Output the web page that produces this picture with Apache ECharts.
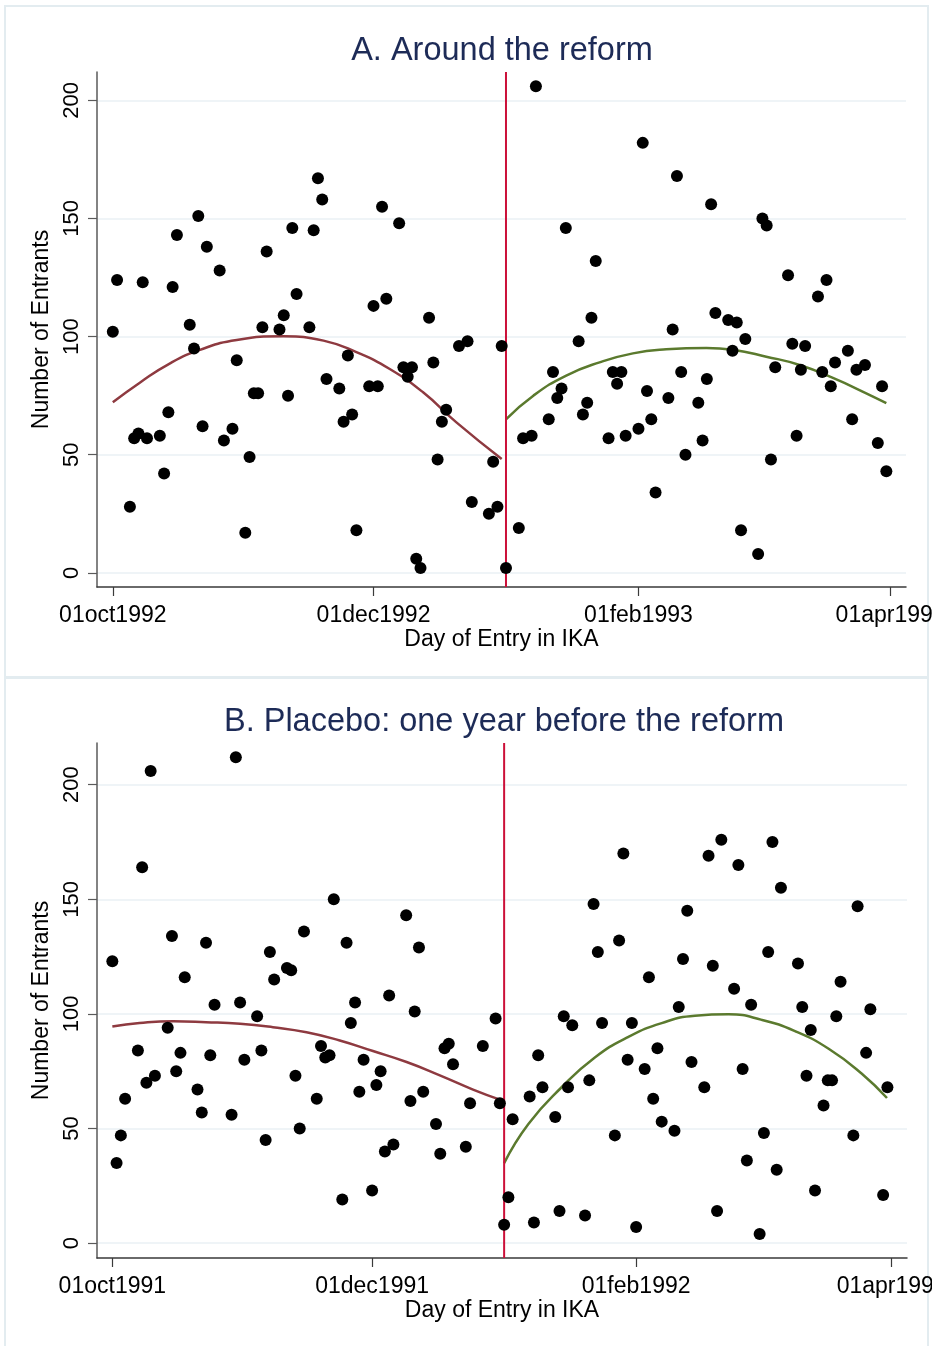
<!DOCTYPE html>
<html>
<head>
<meta charset="utf-8">
<script src="https://cdn.jsdelivr.net/npm/echarts@6/dist/echarts.min.js"></script>
<style>
html,body{margin:0;padding:0;background:#fff;}
#chart{width:932px;height:1346px;}
</style>
</head>
<body>
<div id="chart"></div>
<script>
// ---- Panel A: Around the reform (days since 01oct1992) ----
const dayA_pre = [0,1,4,5,6,7,8,11,12,13,14,15,18,19,20,21,22,25,26,28,29,31,32,33,34,35,36,39,40,41,42,43,46,47,48,49,50,53,54,55,56,57,60,61,62,63,64,67,68,69,70,71,72,74,75,76,77,78,81,83,84,88,89,90,91];
const valA_pre = [102,124,28,57,59,123,57,58,42,68,121,143,105,95,151,62,138,128,56,61,90,17,49,76,76,104,136,103,109,75,146,118,104,145,167,158,82,78,64,92,67,18,79,113,79,155,116,148,87,83,87,6,2,108,89,48,64,69,96,98,30,25,47,28,96];
const dayA_post = [92,95,96,98,99,102,103,104,105,106,109,110,111,112,113,116,117,118,119,120,123,124,125,126,127,130,131,132,133,134,137,138,139,140,141,144,145,146,147,148,151,152,153,154,155,158,159,160,161,162,165,166,167,168,169,172,173,174,176,179,180,181];
const valA_post = [2,19,57,58,206,65,85,74,78,146,98,67,72,108,132,57,85,80,85,58,61,182,77,65,34,74,103,168,85,50,72,56,82,156,110,107,94,106,18,99,8,150,147,48,87,126,97,58,86,96,117,85,124,79,89,94,65,86,88,55,79,43];
const fitDayA_pre = [0,6.4,13.4,20.4,29,39.9,49.3,57,64.8,72.6,80.4,91];
const fitValA_pre = [72.2,80.6,88.7,94.4,98.6,100.1,98.3,93.4,86.3,76.4,63.7,48.2];
const fitDayA_post = [92,98.4,106.1,113.9,121.7,129.5,138.9,145.1,152.9,160.7,168.5,176.3,181];
const fitValA_post = [65,75,83.5,89.1,92.9,94.6,95.2,94.4,91.5,88,82.5,76,71.8];
const reformDayA = 92;
const tickDaysA = [0,61,123,182];
const tickLabelsA = ['01oct1992','01dec1992','01feb1993','01apr1993'];

// ---- Panel B: Placebo (days since 01oct1991) ----
const dayB_pre = [0,1,2,3,6,7,8,9,10,13,14,15,16,17,20,21,22,23,24,28,29,30,31,34,35,36,37,38,41,42,43,44,45,48,49,50,51,52,54,55,56,57,58,59,61,62,63,64,65,66,69,70,71,72,73,76,77,78,79,80,83,84,87,90,91];
const valB_pre = [123,35,47,63,84,164,70,206,73,94,134,75,83,116,67,57,131,82,104,56,212,105,80,99,84,45,127,115,120,119,73,50,136,63,86,81,82,150,19,131,96,105,66,80,23,69,75,40,108,43,143,62,101,129,66,52,39,85,87,78,42,61,86,98,61];
const dayB_post = [92,93,94,98,99,100,101,104,105,106,107,108,111,112,113,114,115,118,119,120,121,122,123,125,126,127,128,129,132,133,134,135,136,139,140,141,142,143,146,147,148,149,150,152,153,154,155,156,157,161,162,163,164,165,167,168,169,170,171,174,175,177,178,181,182];
const valB_post = [8,20,54,64,9,82,68,55,14,99,68,95,12,71,148,127,96,47,132,170,80,96,7,76,116,63,85,53,49,103,124,145,79,68,169,121,14,176,111,165,76,36,104,4,48,127,175,32,155,122,103,73,93,23,60,71,71,99,114,47,147,83,102,21,68];
const fitDayB_pre = [0,6.4,14.3,22,30,37.7,45.6,53.4,61.2,69.1,76.9,84.7,91];
const fitValB_pre = [94.5,96,96.8,96.4,95.7,94.2,92,88.4,83.8,79,73.2,67,62.6];
const fitDayB_post = [92,97.7,105.5,113.3,121.2,129,136.8,144.7,152.5,160.3,168.2,176,181.9];
const fitValB_post = [34.9,52,68,81,90,96,99.2,99.8,97.4,92.5,84.8,73.9,63.3];
const reformDayB = 92;
const tickDaysB = [0,61,123,183];
const tickLabelsB = ['01oct1991','01dec1991','01feb1992','01apr1992'];

const yTicks = [0,50,100,150,200];
const titles = ['A. Around the reform','B. Placebo: one year before the reform'];
const xName = 'Day of Entry in IKA';
const yName = 'Number of Entrants';

const FONT = 'Liberation Sans';
const zip = (a,b) => a.map((v,i)=>[v,b[i]]);

function xAxisFor(idx, min, max, ticks, labels){
  return {
    type:'value', gridIndex: idx, min:min, max:max,
    name: xName, nameLocation:'middle', nameGap:40,
    nameTextStyle:{fontFamily:FONT,fontSize:23,color:'#000'},
    axisLine:{onZero:false,lineStyle:{color:'#3a3a3a',width:1.5}},
    axisTick:{show:true,length:9,customValues:ticks,lineStyle:{color:'#3a3a3a',width:1.2}},
    axisLabel:{customValues:ticks,margin:17,fontFamily:FONT,fontSize:23,color:'#000',hideOverlap:false,
      formatter:(v)=>{const i=ticks.indexOf(Math.round(v));return i>=0?labels[i]:'';}},
    splitLine:{show:false}
  };
}
function yAxisFor(idx, min, max){
  return {
    type:'value', gridIndex: idx, min:min, max:max,
    name: yName, nameLocation:'middle', nameGap:35, nameRotate:90,
    nameTextStyle:{fontFamily:FONT,fontSize:23,color:'#000'},
    axisLine:{show:true,onZero:false,lineStyle:{color:'#5a5a5a',width:1.5}},
    axisTick:{show:true,length:9,customValues:yTicks,lineStyle:{color:'#5a5a5a',width:1.2}},
    axisLabel:{customValues:yTicks,rotate:90,margin:14,fontFamily:FONT,fontSize:22,color:'#000'},
    splitLine:{show:true,lineStyle:{color:'#eaf1f4',width:1.5}}
  };
}
function scatter(idx, d, v){
  return {type:'scatter',xAxisIndex:idx,yAxisIndex:idx,data:zip(d,v),symbol:'circle',symbolSize:12,
    itemStyle:{color:'#000',opacity:1},z:5,silent:true};
}
function fit(idx, d, v, color){
  return {type:'line',xAxisIndex:idx,yAxisIndex:idx,data:zip(d,v),smooth:true,showSymbol:false,symbol:'none',
    lineStyle:{color:color,width:2.5},z:3,silent:true};
}
function vline(idx, day, ymin, ymax){
  return {type:'line',xAxisIndex:idx,yAxisIndex:idx,data:[[day,ymin],[day,ymax]],showSymbol:false,symbol:'none',
    lineStyle:{color:'#cc1039',width:2},z:4,silent:true};
}

const MAROON = '#8e3a40';
const GREEN = '#5b7a2e';

const option = {
  animation:false,
  backgroundColor:'#fff',
  title:[
    {text:titles[0],left:502,top:35,padding:0,textAlign:'center',textStyle:{fontFamily:FONT,fontSize:32.5,fontWeight:'normal',color:'#1d2b57'}},
    {text:titles[1],left:504,top:706,padding:0,textAlign:'center',textStyle:{fontFamily:FONT,fontSize:32.5,fontWeight:'normal',color:'#1d2b57'}}
  ],
  graphic:[
    {type:'rect',shape:{x:5,y:6,width:923,height:671},style:{fill:'none',stroke:'#e3ecf0',lineWidth:2},z:-1},
    {type:'rect',shape:{x:5,y:678,width:923,height:680},style:{fill:'none',stroke:'#e3ecf0',lineWidth:2},z:-1}
  ],
  grid:[
    {left:97,right:26,top:72,height:515,containLabel:false,outerBoundsMode:'none'},
    {left:97,right:25,top:743,height:515,containLabel:false,outerBoundsMode:'none'}
  ],
  xAxis:[
    xAxisFor(0,-3.7,185.6,tickDaysA,tickLabelsA),
    xAxisFor(1,-3.6,186.6,tickDaysB,tickLabelsB)
  ],
  yAxis:[
    yAxisFor(0,-6,212),
    yAxisFor(1,-6.5,218.2)
  ],
  series:[
    vline(0,reformDayA,-6,212),
    fit(0,fitDayA_pre,fitValA_pre,MAROON),
    fit(0,fitDayA_post,fitValA_post,GREEN),
    scatter(0,dayA_pre,valA_pre),
    scatter(0,dayA_post,valA_post),
    vline(1,reformDayB,-6.5,218.2),
    fit(1,fitDayB_pre,fitValB_pre,MAROON),
    fit(1,fitDayB_post,fitValB_post,GREEN),
    scatter(1,dayB_pre,valB_pre),
    scatter(1,dayB_post,valB_post)
  ]
};
const chart = echarts.init(document.getElementById('chart'),null,{renderer:'canvas'});
chart.setOption(option);
</script>
</body>
</html>
